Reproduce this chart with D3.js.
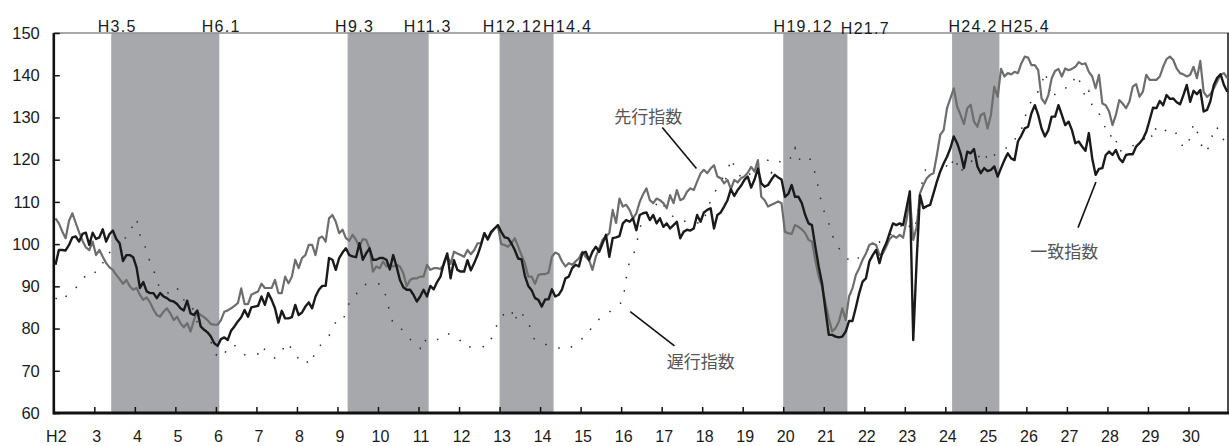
<!DOCTYPE html>
<html><head><meta charset="utf-8">
<script src="https://cdn.jsdelivr.net/npm/d3@7"></script>
<style>body{margin:0;background:#fff;} svg{display:block;}</style>
</head><body>
<svg id="chart" width="1229" height="446"></svg>
<script>
// ---------- DATA ----------
const yearLabels = ["H2","3","4","5","6","7","8","9","10","11","12","13","14","15","16","17","18","19","20","21","22","23","24","25","26","27","28","29","30"];
const yTicks = [60,70,80,90,100,110,120,130,140,150];
const bandStarts = ["H3.5","H9.3","H12.12","H19.12","H24.2"];
const bandEnds   = ["H6.1","H11.3","H14.4","H21.7","H25.4"];

// 一致指数 (monthly, H2.1 - H30.12)
const coincident = [
 95.1, 98.6, 98.6, 98.5, 99.8,101.6,101.8,100.6,102.4,102.7, 99.8,102.7,
101.2,101.6,103.5,100.6,102.4,103.2,101.2,100.2, 96.0, 97.4, 97.4, 96.9,
 94.5, 89.6, 91.0, 88.8, 88.4, 88.4, 87.2, 88.4, 87.6, 87.2, 86.6, 86.4,
 85.8, 84.8, 84.3, 86.6, 83.6, 83.2, 84.3, 80.5, 79.7, 79.1, 78.1, 76.5,
 75.9, 77.5, 77.9, 77.3, 79.5, 80.5, 81.7, 82.7, 84.4, 82.8, 85.0, 85.2,
 85.4, 87.6, 85.6, 88.4, 86.8, 84.8, 81.4, 84.2, 82.4, 82.4, 82.7, 85.6,
 83.2, 83.8, 85.2, 86.2, 84.8, 87.6, 89.2, 90.1, 90.1, 96.7, 96.3, 93.9,
 96.7, 98.0, 99.0, 97.4, 97.1, 96.9,100.2, 96.3, 97.8, 99.0, 96.3, 96.3,
 96.7, 96.7, 96.3, 94.0, 97.4, 94.7, 91.5, 89.8, 89.2, 89.2, 88.0, 86.4,
 87.6, 89.2, 87.6, 90.1, 89.3, 91.0, 92.3, 95.5, 97.8, 91.9, 96.2, 93.9,
 93.5, 93.5, 96.2, 93.8, 95.5, 97.4, 99.8,102.6,101.2,102.9,103.7,104.5,
102.9,101.6,101.4,100.2, 98.6, 96.6, 96.4, 92.5, 90.1, 89.1, 87.2, 86.8,
 85.2, 86.9, 86.9, 89.3, 87.6, 88.0, 89.3, 91.9, 92.3, 94.3, 95.1, 94.7,
 97.8, 98.2, 96.2, 98.2, 99.4, 98.2,100.2,102.2, 97.0,101.4,101.6,101.9,
104.9,105.7,105.3,106.1,103.3,106.9,107.3,107.5,105.7,106.9,104.9,106.1,
104.1,104.9,103.7,104.5,105.3,101.4,102.9,103.4,103.2,103.7,106.9,105.3,
107.5,108.1,108.5,103.7,106.9,107.5,108.9,110.4,113.0,111.4,112.8,113.8,
115.2,116.0,113.4,115.3,117.9,114.4,113.6,114.0,115.3,116.4,115.8,115.3,
111.2,111.9,114.0,111.2,111.2,109.7,106.9,104.9,104.5, 99.4, 94.7, 90.7,
 84.4, 78.5, 78.5, 78.1, 77.9, 78.1, 79.3, 81.8, 81.8, 85.0, 88.4, 91.1,
 91.9, 95.9, 97.4, 98.6, 95.5, 98.5,100.2,102.6,104.9,104.5,104.9,104.5,
108.5,112.5, 77.3, 96.0,111.6,108.5,109.0,109.3,112.0,114.8,117.2,119.1,
120.7,122.7,125.5,123.9,121.5,118.0,121.9,121.5,122.5,118.4,116.8,118.0,
117.3,117.6,118.4,116.0,118.0,119.9,121.5,120.3,119.9,124.3,125.7,127.4,
127.8,131.0,132.9,130.6,127.4,125.5,127.0,130.2,130.2,132.9,130.6,128.2,
129.0,127.0,123.9,124.3,123.1,122.1,126.3,120.3,116.4,117.8,118.0,121.1,
121.9,121.1,122.3,120.3,119.4,121.1,121.3,121.3,123.1,123.9,124.9,126.6,
129.4,132.3,132.2,133.9,132.9,135.3,134.4,134.5,133.6,133.1,135.3,137.7,
133.7,136.3,135.5,136.5,131.4,131.8,133.9,137.7,139.4,140.2,137.7,136.1];

// 先行指数
const leading = [
106.1,104.9,103.0,101.4,105.5,107.3,105.0,102.8,100.8, 99.2, 98.6,100.6,
 97.4, 98.6, 97.0, 95.5, 94.5, 93.9, 92.7, 91.7, 90.6, 91.5, 90.0, 89.2,
 89.6, 88.0, 86.8, 87.4, 86.2, 84.5, 83.2, 82.8, 84.0, 84.8, 83.6, 82.0,
 82.8, 81.3, 80.3, 81.3, 79.3, 82.0, 84.0, 83.2, 82.7, 82.0, 81.1, 80.9,
 80.9, 82.0, 84.0, 84.3, 84.8, 85.4, 86.0, 89.5, 85.8, 85.8, 88.0, 88.4,
 88.8, 90.6, 89.6, 89.6, 89.6, 91.5, 88.4, 88.4, 92.3, 90.7, 92.3, 96.3,
 94.3, 96.7, 97.4, 99.8, 99.8, 97.4,101.4,101.8,100.6,106.1,106.9,105.3,
102.6,103.4,101.4,100.8,102.2,101.0, 99.4,101.2,101.0, 99.0, 93.5, 94.7,
 94.3, 95.9, 94.7, 95.1, 94.7, 95.1, 94.7, 93.1, 90.0, 91.5, 91.9, 91.9,
 92.3, 92.3, 95.1, 93.9, 94.3, 94.3, 94.1, 95.1, 97.4, 95.3, 98.2, 97.8,
 97.4, 97.0, 98.6, 97.6, 98.6,100.2,100.2,102.6,101.0,102.6,103.7,104.3,
100.0, 99.8, 99.4,100.2,101.4, 99.4, 97.4, 95.5, 92.3, 92.3, 90.6, 92.7,
 92.9, 92.9, 93.2, 97.0, 98.0, 97.6, 95.9, 94.7, 95.5, 95.1, 95.9, 96.6,
 98.2, 97.0, 96.2, 93.9, 97.0, 99.0,101.0,101.8,102.6,108.1,105.0,110.8,
108.9,109.3,108.1,106.1,107.3,110.0,111.8,113.2,110.4,109.7,110.8,110.4,
109.7,108.5,111.6,109.7,112.8,110.4,110.8,112.4,113.2,112.8,114.8,116.7,
117.6,116.8,117.9,118.7,116.0,115.6,114.4,115.2,113.0,115.2,114.6,115.6,
116.0,116.9,118.3,117.2,119.9,111.2,110.4,108.9,109.3,109.7,110.1,109.7,
102.9,102.6,102.4,104.5,104.1,103.5,102.6,101.0,100.6, 96.2, 92.3, 89.9,
 86.0, 82.4, 79.3, 80.1, 81.7, 84.8, 82.0, 87.6, 89.5, 92.7, 94.3, 96.3,
 97.8, 99.8,100.2, 99.8, 97.4, 97.8, 99.4,101.2,102.0,101.5,102.2,101.5,
105.7,110.9,101.0,104.0,112.0,114.0,115.6,116.4,116.8,121.1,125.9,127.0,
132.2,134.5,136.9,132.6,130.6,128.4,132.2,133.0,129.0,127.8,130.6,131.0,
127.4,130.6,137.3,134.9,141.5,139.7,140.5,140.2,140.8,140.5,142.8,144.4,
144.2,142.4,142.4,141.2,134.5,133.3,135.3,139.3,141.0,141.5,139.7,141.6,
141.2,141.5,142.0,143.1,142.6,142.8,140.8,139.7,136.9,140.1,133.3,132.9,
131.4,128.2,130.6,134.1,133.3,132.2,133.7,137.3,137.9,134.9,136.1,140.1,
138.9,138.9,138.9,139.7,142.0,143.8,144.4,143.6,141.6,140.5,140.2,139.7,
140.1,142.0,139.3,143.4,136.0,134.9,135.5,136.9,138.5,140.1,140.5,139.3];

// 遅行指数
const lagging = [
 87.2, 86.8, 86.4, 87.6, 88.0, 88.8, 89.6, 90.6, 91.5, 92.7, 93.5, 93.7,
 93.2, 93.9, 95.5, 97.8, 98.0, 98.2, 98.0, 97.8, 99.0,102.6,103.0,104.5,
106.1,102.2,101.4, 97.7, 95.9, 94.0, 91.5, 89.2, 89.0, 88.5, 88.4, 89.5,
 89.8, 87.2, 86.8, 86.5, 86.0, 84.0, 81.3, 80.1, 79.8, 79.3, 77.0, 74.2,
 73.5, 73.0, 73.8, 75.7, 75.8, 76.1, 75.0, 74.5, 73.8, 73.8, 74.2, 74.1,
 74.0, 75.9, 75.0, 74.2, 73.4, 73.0, 73.5, 74.2, 76.7, 76.1, 75.2, 74.6,
 72.6, 72.8, 73.0, 71.4, 72.2, 75.1, 75.7, 76.5, 77.5, 78.3, 80.0, 81.5,
 82.4, 82.0, 83.6, 86.2, 87.0, 88.0, 89.8, 90.2, 90.5, 90.4, 90.6, 90.5,
 90.6, 89.8, 87.2, 83.8, 81.1, 80.5, 80.2, 79.5, 78.5, 77.5, 76.5, 76.0,
 75.3, 77.7, 76.7, 77.0, 77.2, 77.4, 77.5, 78.2, 78.9, 78.5, 78.2, 77.9,
 77.0, 75.6, 75.6, 75.7, 75.8, 75.9, 75.8, 75.7, 75.7, 77.5, 79.5, 81.4,
 82.0, 84.0, 84.2, 84.4, 81.6, 84.2, 83.5, 82.8, 81.9, 78.5, 77.3, 76.8,
 76.5, 76.3, 76.0, 75.8, 75.6, 75.4, 75.2, 75.1, 75.1, 75.8, 76.5, 77.3,
 77.6, 77.9, 78.9, 81.0, 81.6, 82.2, 82.8, 83.3, 83.9, 84.6, 85.2, 85.8,
 86.4, 92.0, 96.0, 97.0, 99.8,103.7,105.7,106.4,107.5,108.5,109.5,110.5,
109.3,108.0,107.0,106.5,106.0,105.7,105.3,105.6,105.4,105.2,105.0,105.1,
105.1,108.9,110.0,111.4,114.0,117.2,114.0,117.0,120.3,118.5,117.0,115.8,
115.3,116.0,117.0,118.0,119.0,119.8,120.6,119.8,116.9,118.0,119.0,120.0,
120.5,120.9,120.1,122.7,119.9,120.5,120.8,120.9,119.1,116.6,113.0,109.0,
106.9,104.9,102.2,100.2, 99.0, 98.0, 97.0, 96.2, 95.6, 96.0, 97.0, 98.0,
 98.5, 99.0, 99.6,100.0,100.5,101.0,101.5,102.0,102.8,103.5,104.0,104.8,
105.5,104.0,101.5,106.0,112.0,116.0,118.6,117.8,117.6,117.6,118.0,118.5,
118.5,117.6,120.7,118.9,116.8,118.5,119.0,119.5,120.0,121.5,119.7,119.5,
121.3,120.3,121.1,121.5,122.0,122.5,123.0,123.5,124.9,125.1,127.0,130.0,
132.0,134.0,135.7,136.1,137.7,140.8,138.0,134.5,135.5,136.5,136.8,137.0,
137.1,137.3,140.2,139.0,137.5,134.4,136.2,132.6,132.4,131.0,129.2,127.3,
127.4,124.0,124.7,121.7,122.5,122.8,123.0,123.3,123.6,123.9,124.5,125.5,
126.6,124.9,128.0,127.8,127.2,126.8,127.0,127.3,126.0,124.5,122.7,123.6,
125.1,128.6,126.8,124.4,121.7,122.5,123.1,127.8,127.5,127.0,124.4,124.3];

const seriesNames = ["先行指数","一致指数","遅行指数"];

// ---------- LAYOUT ----------
const W = 1229, H = 446;
const plot = {left: 53.8, right: 1229, top: 33, bottom: 413};
const nMonths = yearLabels.length * 12;
const x = d3.scaleLinear().domain([0, nMonths]).range([plot.left, plot.right]);
const y = d3.scaleLinear().domain([60, 150]).range([plot.bottom, plot.top]);
const svg = d3.select("#chart");
const font = "'Liberation Sans', Arial, sans-serif";
const cjk = "'Noto Sans CJK JP', 'Noto Sans', sans-serif";

function monthIndex(lbl) {
  const [yy, mm] = lbl.slice(1).split(".").map(Number);
  return (yy - 2) * 12 + (mm - 1);
}

// recession bands
const bands = bandStarts.map((s, i) => ({s: monthIndex(s), e: monthIndex(bandEnds[i])}));
svg.append("g").selectAll("rect").data(bands).join("rect")
  .attr("x", d => x(d.s + 1)).attr("width", d => x(d.e + 1) - x(d.s + 1))
  .attr("y", y(150)).attr("height", y(60) - y(150))
  .attr("fill", "#a7a8ac");

// top border / right border
svg.append("line").attr("x1", x(0)).attr("x2", x(nMonths)).attr("y1", y(150)).attr("y2", y(150))
  .attr("stroke", "#8c8c8c").attr("stroke-width", 1.6);
svg.append("line").attr("x1", x(nMonths) - 1).attr("x2", x(nMonths) - 1).attr("y1", y(150)).attr("y2", y(60))
  .attr("stroke", "#111").attr("stroke-width", 1.5);

// series lines
const line = d3.line().x((d, i) => x(i + 0.5)).y(d => y(d)).curve(d3.curveLinear);
svg.append("path").datum(lagging).attr("d", line).attr("fill", "none")
  .attr("stroke", "#2a2a2a").attr("stroke-width", 1.5).attr("stroke-dasharray", "1.5 12");
svg.append("path").datum(leading).attr("d", line).attr("fill", "none")
  .attr("stroke", "#6d6d6d").attr("stroke-width", 2.2).attr("stroke-linejoin", "round");
svg.append("path").datum(coincident).attr("d", line).attr("fill", "none")
  .attr("stroke", "#1a1a1a").attr("stroke-width", 2.4).attr("stroke-linejoin", "round");

// axes
const yAxis = d3.axisLeft(y).tickValues(yTicks).tickSizeInner(-6).tickSizeOuter(0).tickPadding(14);
const gy = svg.append("g").attr("transform", `translate(${plot.left},0)`).call(yAxis);
gy.select(".domain").remove();
gy.selectAll(".tick line").attr("stroke", "#111").attr("stroke-width", 1.5);
gy.selectAll("text").attr("font-family", font).attr("font-size", 16.5).attr("fill", "#1a1a1a");
svg.append("line").attr("x1", plot.left).attr("x2", plot.left).attr("y1", y(150)).attr("y2", y(60) + 1.5)
  .attr("stroke", "#111").attr("stroke-width", 2.6);

const xAxis = d3.axisBottom(d3.scalePoint().domain(yearLabels).range([x(0), x((yearLabels.length - 1) * 12)]))
  .tickSizeInner(-6).tickSizeOuter(0).tickPadding(18);
const gx = svg.append("g").attr("transform", `translate(0,${plot.bottom})`).call(xAxis);
gx.select(".domain").remove();
gx.selectAll(".tick line").attr("stroke", "#111").attr("stroke-width", 1.5);
gx.selectAll("text").attr("font-family", font).attr("font-size", 16).attr("fill", "#1a1a1a").attr("dx", 2);
svg.append("line").attr("x1", plot.left).attr("x2", x(nMonths)).attr("y1", plot.bottom).attr("y2", plot.bottom)
  .attr("stroke", "#111").attr("stroke-width", 3);

// band labels at top
const bandLabelNudge = [6, 2, 7, -1, 13, 14, 20, 18, 21, 26];
const bandLabelDy = [0, 0, 0, 0, 0, 0, 0, 2, 0, 0];
const bandLabels = [];
bands.forEach((b, i) => {
  bandLabels.push({t: bandStarts[i], xm: b.s + 1});
  bandLabels.push({t: bandEnds[i], xm: b.e + 1});
});
svg.append("g").selectAll("text").data(bandLabels).join("text")
  .attr("x", (d, i) => x(d.xm) + bandLabelNudge[i])
  .attr("y", (d, i) => 31.5 + bandLabelDy[i])
  .attr("text-anchor", "middle").attr("font-family", font).attr("font-size", 16)
  .attr("letter-spacing", 1.3).attr("fill", "#1a1a1a").text(d => d.t);

// series annotations (month index, value positions)
const notes = [
  {t: seriesNames[0], tx: 176, tv: 128.6, l: [[180.2, 127.6], [190.3, 117.9]]},
  {t: seriesNames[2], tx: 191.6, tv: 70.6, l: [[170.7, 84.0], [183.8, 75.9]]},
  {t: seriesNames[1], tx: 299.2, tv: 96.6, l: [[308.6, 114.7], [303.3, 103.9]]}
];
notes.forEach(n => {
  svg.append("text").attr("x", x(n.tx)).attr("y", y(n.tv)).attr("text-anchor", "middle")
    .attr("font-family", cjk).attr("font-size", 17).attr("fill", "#555").text(n.t);
  svg.append("line").attr("x1", x(n.l[0][0])).attr("y1", y(n.l[0][1]))
    .attr("x2", x(n.l[1][0])).attr("y2", y(n.l[1][1]))
    .attr("stroke", "#111").attr("stroke-width", 1.6);
});
</script>
</body></html>
